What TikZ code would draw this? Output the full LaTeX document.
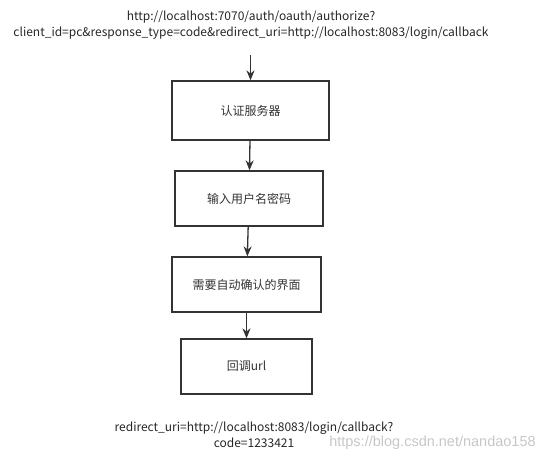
\documentclass[tikz,border=0pt]{standalone}
\usepackage{fontspec}
\setmainfont{Noto Sans CJK SC}
\newfontfamily\wmfont{Liberation Sans}
\usepackage{tikz}
\usetikzlibrary{shapes, arrows.meta, positioning}
\definecolor{linegray}{HTML}{333333}
\tikzstyle{stepbox} = [rectangle, minimum height=55pt, text centered, draw=linegray, line width=1.3pt, text=linegray, font=\fontsize{12}{16}\selectfont]
\tikzstyle{urltext} = [align=center, text=black!85, font=\fontsize{12}{16}\selectfont, inner sep=0pt]
\tikzstyle{flow} = [-{Stealth[length=10pt, width=8pt]}, draw=linegray, line width=1.3pt]

\begin{document}
\begin{tikzpicture}[x=1pt, y=-1pt, node distance=86pt]
\useasboundingbox (0,0) rectangle (554,461);
\node (req) [urltext] at (251,25) {http://localhost:7070/auth/oauth/authorize?\\client\_id=pc\&response\_type=code\&redirect\_uri=http://localhost:8083/login/callback};
\coordinate (start) at (250.5,55);
\node (auth) [stepbox, minimum width=157pt, minimum height=59pt] at (250.5,110.5) {认证服务器};
\node (pwd) [stepbox, minimum width=148pt, below of=auth, xshift=-1.5pt, yshift=-2pt] {输入用户名密码};
\node (confirm) [stepbox, minimum width=149pt, below of=pwd, xshift=-2.5pt] {需要自动确认的界面};
\node (callback) [stepbox, minimum width=131pt, below of=confirm, yshift=4pt] {回调url};
\node (result) [urltext] at (254,435) {redirect\_uri=http://localhost:8083/login/callback?\\code=1233421};
\node (mark) [text=black!22, inner sep=0pt, font=\wmfont\fontsize{14.5}{16}\selectfont] at (432.5,443) {https://blog.csdn.net/nandao158};
\draw [flow] (start) -- (auth);
\draw [flow] (auth) -- (pwd);
\draw [flow] (pwd) -- (confirm);
\draw [flow] (confirm) -- (callback);
\end{tikzpicture}
\end{document}
